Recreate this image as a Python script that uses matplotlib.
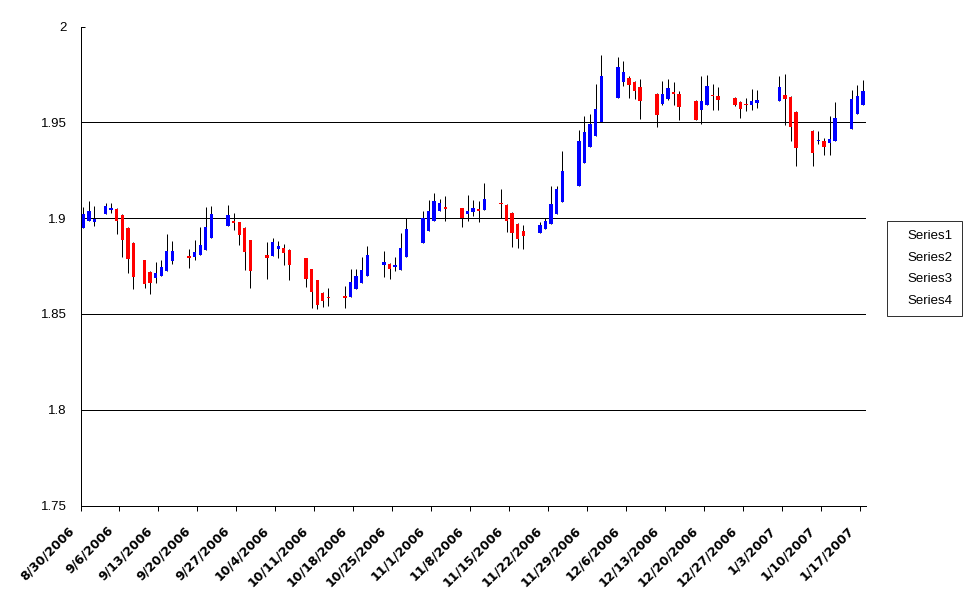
import matplotlib
matplotlib.use("Agg")
import matplotlib.pyplot as plt
import matplotlib.dates as mdates
from matplotlib.lines import Line2D
from matplotlib.transforms import ScaledTranslation
import datetime as dt
import numpy as np

# ---------------- data ----------------
dates = [
    "2006-08-30", "2006-08-31", "2006-09-01", "2006-09-03", "2006-09-04", "2006-09-05",
    "2006-09-06", "2006-09-07", "2006-09-08", "2006-09-10", "2006-09-11", "2006-09-12",
    "2006-09-13", "2006-09-14", "2006-09-15", "2006-09-18", "2006-09-19", "2006-09-20",
    "2006-09-21", "2006-09-22", "2006-09-25", "2006-09-26", "2006-09-27", "2006-09-28",
    "2006-09-29", "2006-10-02", "2006-10-03", "2006-10-04", "2006-10-05", "2006-10-06",
    "2006-10-09", "2006-10-10", "2006-10-11", "2006-10-12", "2006-10-13", "2006-10-16",
    "2006-10-17", "2006-10-18", "2006-10-19", "2006-10-20", "2006-10-23", "2006-10-24",
    "2006-10-25", "2006-10-26", "2006-10-27", "2006-10-30", "2006-10-31", "2006-11-01",
    "2006-11-02", "2006-11-03", "2006-11-06", "2006-11-07", "2006-11-08", "2006-11-09",
    "2006-11-10", "2006-11-13", "2006-11-14", "2006-11-15", "2006-11-16", "2006-11-17",
    "2006-11-20", "2006-11-21", "2006-11-22", "2006-11-23", "2006-11-24", "2006-11-27",
    "2006-11-28", "2006-11-29", "2006-11-30", "2006-12-01", "2006-12-04", "2006-12-05",
    "2006-12-06", "2006-12-07", "2006-12-08", "2006-12-11", "2006-12-12", "2006-12-13",
    "2006-12-14", "2006-12-15", "2006-12-18", "2006-12-19", "2006-12-20", "2006-12-21",
    "2006-12-22", "2006-12-25", "2006-12-26", "2006-12-27", "2006-12-28", "2006-12-29",
    "2007-01-02", "2007-01-03", "2007-01-04", "2007-01-05", "2007-01-08", "2007-01-09",
    "2007-01-10", "2007-01-11", "2007-01-12", "2007-01-15", "2007-01-16", "2007-01-17",
]

open_ = [
    1.8950, 1.8987, 1.8981, 1.9024, 1.9043, 1.9048, 1.9017, 1.8950, 1.8872, 1.8781, 1.8720, 1.8689,
    1.8698, 1.8725, 1.8776, 1.8802, 1.8797, 1.8808, 1.8834, 1.8898, 1.8961, 1.8985, 1.8979, 1.8950,
    1.8886, 1.8807, 1.8804, 1.8839, 1.8846, 1.8834, 1.8792, 1.8734, 1.8677, 1.8610, 1.8590, 1.8593,
    1.8590, 1.8628, 1.8663, 1.8699, 1.8757, 1.8760, 1.8746, 1.8729, 1.8799, 1.8872, 1.8935, 1.8987,
    1.9039, 1.9059, 1.9052, 1.9024, 1.9032, 1.9048, 1.9043, 1.9076, 1.9069, 1.9029, 1.8970, 1.8933,
    1.8921, 1.8945, 1.8968, 1.9024, 1.9086, 1.9170, 1.9285, 1.9369, 1.9431, 1.9503, 1.9625, 1.9709,
    1.9733, 1.9712, 1.9686, 1.9650, 1.9597, 1.9623, 1.9656, 1.9650, 1.9613, 1.9566, 1.9588, 1.9644,
    1.9639, 1.9629, 1.9608, 1.9592, 1.9588, 1.9603, 1.9609, 1.9644, 1.9634, 1.9555, 1.9456, 1.9400,
    1.9404, 1.9390, 1.9400, 1.9463, 1.9541, 1.9592,
]
high = [
    1.9057, 1.9090, 1.9065, 1.9078, 1.9078, 1.9052, 1.9020, 1.8952, 1.8875, 1.8783, 1.8722, 1.8771,
    1.8781, 1.8919, 1.8881, 1.8837, 1.8886, 1.8952, 1.9060, 1.9064, 1.9069, 1.9026, 1.8981, 1.8952,
    1.8888, 1.8877, 1.8898, 1.8881, 1.8864, 1.8839, 1.8794, 1.8736, 1.8679, 1.8612, 1.8633, 1.8645,
    1.8734, 1.8734, 1.8799, 1.8856, 1.8829, 1.8767, 1.8799, 1.8924, 1.8999, 1.9038, 1.9095, 1.9133,
    1.9100, 1.9116, 1.9054, 1.9121, 1.9095, 1.9087, 1.9182, 1.9153, 1.9071, 1.9031, 1.8972, 1.8964,
    1.8982, 1.9000, 1.9170, 1.9170, 1.9351, 1.9461, 1.9535, 1.9545, 1.9702, 1.9850, 1.9843, 1.9822,
    1.9740, 1.9714, 1.9728, 1.9652, 1.9718, 1.9728, 1.9712, 1.9665, 1.9615, 1.9740, 1.9749, 1.9702,
    1.9686, 1.9631, 1.9610, 1.9629, 1.9676, 1.9671, 1.9744, 1.9754, 1.9636, 1.9557, 1.9458, 1.9456,
    1.9420, 1.9535, 1.9608, 1.9671, 1.9697, 1.9723,
]
low = [
    1.8950, 1.8987, 1.8961, 1.9022, 1.9026, 1.8916, 1.8799, 1.8712, 1.8630, 1.8633, 1.8605, 1.8663,
    1.8698, 1.8725, 1.8761, 1.8741, 1.8781, 1.8808, 1.8834, 1.8898, 1.8961, 1.8938, 1.8860, 1.8729,
    1.8636, 1.8683, 1.8804, 1.8793, 1.8755, 1.8677, 1.8642, 1.8532, 1.8524, 1.8537, 1.8542, 1.8529,
    1.8590, 1.8628, 1.8663, 1.8699, 1.8694, 1.8680, 1.8724, 1.8729, 1.8799, 1.8872, 1.8935, 1.8987,
    1.9039, 1.8987, 1.8956, 1.8987, 1.9013, 1.8982, 1.9043, 1.9000, 1.8929, 1.8848, 1.8843, 1.8839,
    1.8921, 1.8945, 1.8968, 1.9024, 1.9086, 1.9170, 1.9285, 1.9369, 1.9431, 1.9503, 1.9625, 1.9688,
    1.9625, 1.9620, 1.9519, 1.9477, 1.9588, 1.9614, 1.9588, 1.9510, 1.9514, 1.9489, 1.9588, 1.9562,
    1.9562, 1.9583, 1.9520, 1.9557, 1.9562, 1.9573, 1.9609, 1.9487, 1.9404, 1.9273, 1.9270, 1.9388,
    1.9327, 1.9327, 1.9400, 1.9463, 1.9541, 1.9592,
]
close = [
    1.9022, 1.9038, 1.8997, 1.9064, 1.9052, 1.8987, 1.8886, 1.8787, 1.8694, 1.8656, 1.8660, 1.8713,
    1.8745, 1.8828, 1.8828, 1.8792, 1.8823, 1.8860, 1.8952, 1.9022, 1.9017, 1.8977, 1.8912, 1.8825,
    1.8725, 1.8793, 1.8877, 1.8855, 1.8820, 1.8755, 1.8682, 1.8616, 1.8546, 1.8567, 1.8584, 1.8584,
    1.8666, 1.8698, 1.8729, 1.8807, 1.8771, 1.8733, 1.8755, 1.8843, 1.8944, 1.9000, 1.9038, 1.9090,
    1.9081, 1.9048, 1.9000, 1.9039, 1.9055, 1.9038, 1.9100, 1.9071, 1.8987, 1.8921, 1.8891, 1.8908,
    1.8964, 1.8985, 1.9074, 1.9153, 1.9247, 1.9404, 1.9451, 1.9493, 1.9571, 1.9744, 1.9791, 1.9765,
    1.9693, 1.9662, 1.9609, 1.9540, 1.9650, 1.9681, 1.9646, 1.9578, 1.9514, 1.9609, 1.9691, 1.9636,
    1.9618, 1.9592, 1.9571, 1.9588, 1.9613, 1.9618, 1.9686, 1.9623, 1.9473, 1.9364, 1.9341, 1.9409,
    1.9369, 1.9411, 1.9524, 1.9623, 1.9639, 1.9665,
]

series_names = ["Series1", "Series2", "Series3", "Series4"]
y_ticks = [1.75, 1.8, 1.85, 1.9, 1.95, 2.0]
axis_start = "2006-08-30"
axis_end = "2007-01-18"

# ---------------- plotting ----------------
W, H = 971, 605
DPI = 100
fig = plt.figure(figsize=(W / DPI, H / DPI), dpi=DPI)
fig.patch.set_facecolor("white")

ax = fig.add_axes([80.5 / W, 1 - 505.5 / H, (865.7 - 80.5) / W, (505.5 - 26.5) / H])

d = np.array([mdates.date2num(dt.datetime.strptime(s, "%Y-%m-%d")) for s in dates])
x = d + 0.5
o = np.array(open_); h = np.array(high); l = np.array(low); c = np.array(close)
up = c >= o

px = 72.0 / DPI  # one pixel in points

# grid lines (except the top)
for yv in y_ticks[1:-1]:
    ax.axhline(yv, color="black", lw=px, zorder=1)

# wicks
ax.vlines(x, l, h, color="black", lw=px, zorder=2)

# bodies
body_bottom = np.minimum(o, c)
body_h = np.maximum(np.abs(c - o), 0.0006)
colors = np.where(up, "#0000FF", "#FF0000")
ax.bar(x, body_h, bottom=body_bottom, width=0.6, color=colors, edgecolor="none",
       linewidth=0, zorder=3)

x0 = mdates.date2num(dt.datetime.strptime(axis_start, "%Y-%m-%d"))
x1 = mdates.date2num(dt.datetime.strptime(axis_end, "%Y-%m-%d"))
ax.set_xlim(x0, x1)
ax.set_ylim(1.75, 2.0)

# spines
for s in ["top", "right"]:
    ax.spines[s].set_visible(False)
for s in ["left", "bottom"]:
    ax.spines[s].set_linewidth(px)
    ax.spines[s].set_color("black")

# y axis
ax.set_yticks(y_ticks)
ax.set_yticklabels(["%g" % v for v in y_ticks])
ax.tick_params(axis="y", direction="in", length=4 * px, width=px, pad=14 * px,
               labelsize=9.5, colors="black")
for t in ax.get_yticklabels():
    t.set_fontfamily("Liberation Sans")

# x axis
xt = np.arange(x0, x1, 7)
ax.set_xticks(xt)
labels = []
for v in xt:
    dd = mdates.num2date(v)
    labels.append("%d/%d/%d" % (dd.month, dd.day, dd.year))
ax.set_xticklabels(labels)
ax.tick_params(axis="x", direction="out", length=5 * px, width=px, pad=18 * px,
               labelsize=9, colors="black")
offset = ScaledTranslation(-8.5 / DPI, 0, fig.dpi_scale_trans)
for t in ax.get_xticklabels():
    t.set_rotation(45)
    t.set_ha("right")
    t.set_va("center")
    t.set_rotation_mode("anchor")
    t.set_fontweight("bold")
    t.set_fontfamily("DejaVu Sans")
    t.set_transform(t.get_transform() + offset)

# legend (stock series have no visible markers)
handles = [Line2D([], [], linestyle="none", marker=None) for _ in series_names]
leg = fig.legend(handles, series_names, loc="center left",
                 bbox_to_anchor=(887 / W, 1 - 268.5 / H),
                 frameon=True, fancybox=False, edgecolor="black",
                 prop={"family": "Liberation Sans", "size": 9.5},
                 handlelength=0.55, handletextpad=0.3, borderpad=0.7,
                 labelspacing=0.72, borderaxespad=0)
leg.get_frame().set_linewidth(px)

fig.savefig("out.png", dpi=DPI, facecolor="white")
